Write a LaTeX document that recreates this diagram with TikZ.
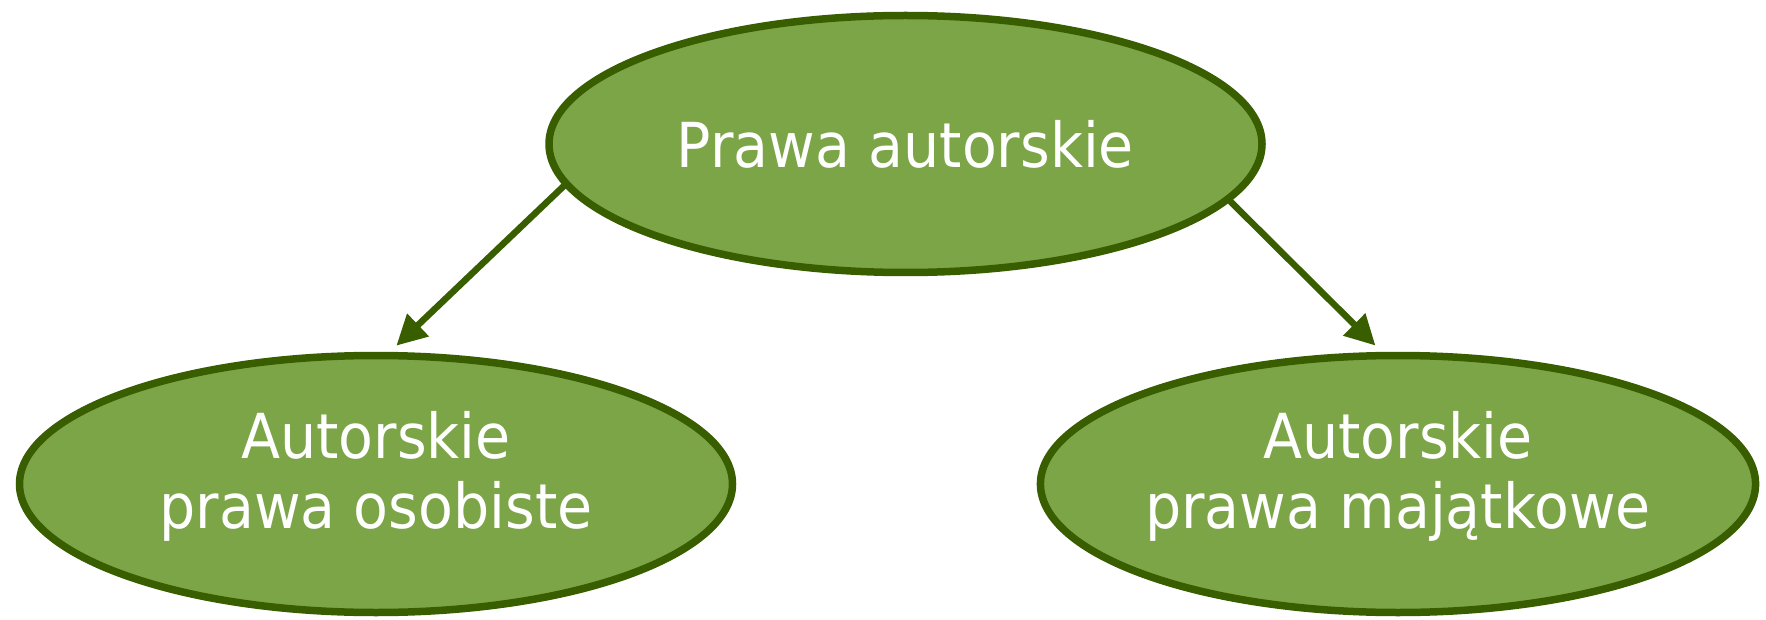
\documentclass[tikz,border=0pt]{standalone}
\usepackage{fontspec}
\setmainfont{DejaVu Sans}[FakeStretch=0.92]
\usetikzlibrary{shapes.geometric, arrows.meta}
\definecolor{lGreen}{RGB}{124,165,72}
\definecolor{dGreen}{RGB}{56,94,0}
\tikzstyle{ell}   = [ellipse, draw=dGreen, fill=lGreen, line width=7.5pt,
minimum width=713pt, minimum height=257pt, inner sep=0pt, text=white,
align=center, font=\fontsize{62}{70}\selectfont]
\tikzstyle{arrow} = [-{Triangle[length=30pt,width=30pt]}, line width=6.5pt, draw=dGreen]

\begin{document}
\begin{tikzpicture}[x=1pt, y=-1pt, node distance=340pt]
      \useasboundingbox (0,0) rectangle (1766,620);
      \node(Pa)  [ell] at (905.5,144) {Prawa autorskie};
      \node(Apo) [ell, text depth=29pt, xshift=-529.5pt, below of = Pa]{Autorskie\\prawa osobiste};
      \node(Apm) [ell, text depth=29pt, xshift=492.5pt,  below of = Pa]{Autorskie\\prawa majątkowe};

      \draw [arrow, shorten >=9pt] (Pa.187) -- (Apo.84);
      \draw [arrow, shorten >=9pt] (Pa.-10) -- (Apm.97);
    \end{tikzpicture}
\end{document}
